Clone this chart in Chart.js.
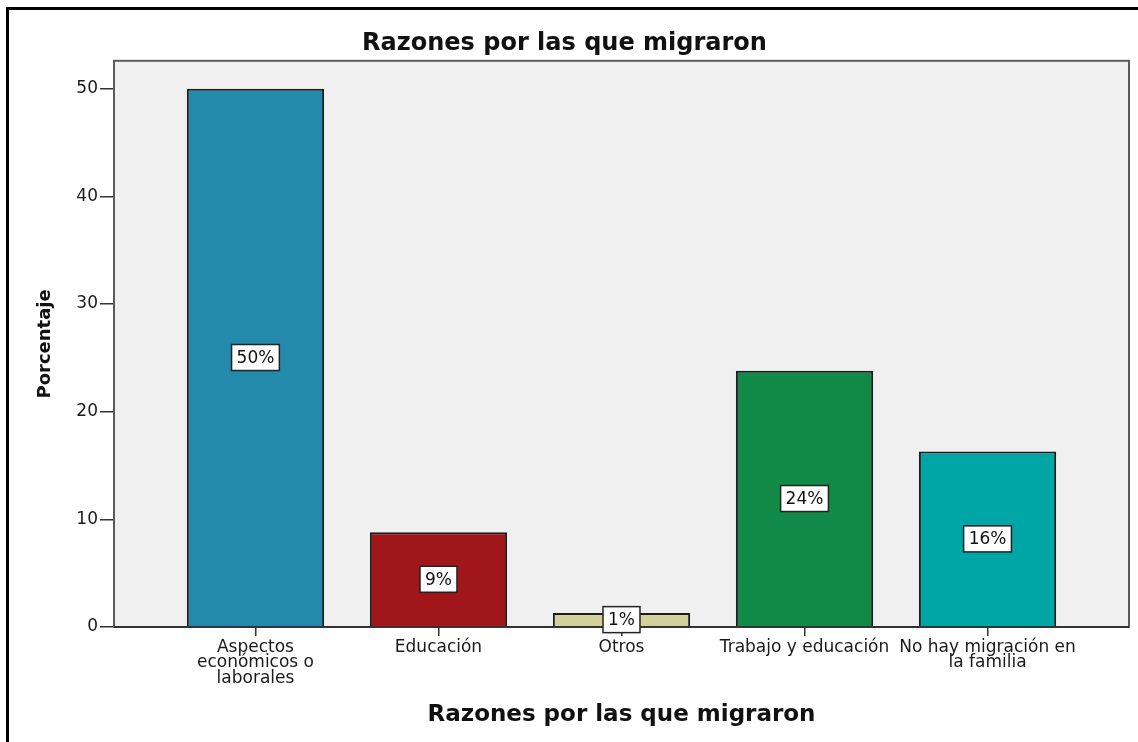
<!DOCTYPE html>
<html>
<head>
<meta charset="utf-8">
<script src="https://cdn.jsdelivr.net/npm/chart.js@4.4.0/dist/chart.umd.min.js"></script>
<style>
  body { margin: 0; background: #fff; }
  canvas { display: block; }
</style>
</head>
<body>
<canvas id="migChart" width="1138" height="742"></canvas>
<script>
// Datos
const categories = [
  ["Aspectos", "económicos o", "laborales"],
  ["Educación"],
  ["Otros"],
  ["Trabajo y educación"],
  ["No hay migración en", "la familia"]
];
const percentages = [50.0, 8.8, 1.3, 23.8, 16.3];
const barColors = ["#248aab", "#a0161a", "#d5d09b", "#108a46", "#00a5a5"];
const yTickValues = [0, 10, 20, 30, 40, 50];

Chart.defaults.font.family = "'DejaVu Sans', sans-serif";

// fondo gris del area de trazado y marco exterior
const framePlugin = {
  id: "frame",
  beforeDraw(chart) {
    const { ctx, chartArea: a } = chart;
    ctx.save();
    ctx.fillStyle = "#fff";
    ctx.fillRect(0, 0, chart.width, chart.height);
    ctx.strokeStyle = "#000";
    ctx.lineWidth = 3;
    ctx.beginPath();
    ctx.moveTo(7.5, chart.height + 5);
    ctx.lineTo(7.5, 8.5);
    ctx.lineTo(chart.width + 5, 8.5);
    ctx.stroke();
    ctx.fillStyle = "#f0f0f0";
    ctx.fillRect(a.left, a.top, a.right - a.left, a.bottom - a.top);
    ctx.restore();
  },
  afterDatasetsDraw(chart) {
    const { ctx, chartArea: a } = chart;
    ctx.save();
    ctx.strokeStyle = "#5a5a5a";
    ctx.lineWidth = 2;
    ctx.strokeRect(a.left, a.top, a.right - a.left, a.bottom - a.top);
    ctx.strokeStyle = "#333";
    ctx.beginPath();
    ctx.moveTo(a.left, a.bottom);
    ctx.lineTo(a.right, a.bottom);
    ctx.stroke();
    ctx.restore();
  }
};

// etiquetas de porcentaje en cajas blancas
const pctLabels = {
  id: "pctLabels",
  afterDatasetsDraw(chart) {
    const ctx = chart.ctx;
    const meta = chart.getDatasetMeta(0);
    ctx.save();
    ctx.font = "17px 'DejaVu Sans'";
    ctx.textAlign = "center";
    ctx.textBaseline = "middle";
    meta.data.forEach((bar, i) => {
      const txt = Math.round(percentages[i]) + "%";
      const cy = (bar.y + bar.base) / 2;
      const w = ctx.measureText(txt).width + 10;
      const h = 26;
      ctx.fillStyle = "#fff";
      ctx.fillRect(bar.x - w / 2, cy - h / 2, w, h);
      ctx.strokeStyle = "#222";
      ctx.lineWidth = 1.5;
      ctx.strokeRect(bar.x - w / 2, cy - h / 2, w, h);
      ctx.fillStyle = "#111";
      ctx.fillText(txt, bar.x, cy + 1);
    });
    ctx.restore();
  }
};

const ctx = document.getElementById("migChart").getContext("2d");
const chart = new Chart(ctx, {
  type: "bar",
  data: {
    datasets: [{
      data: percentages.map((v, i) => ({ x: i, y: v })),
      backgroundColor: barColors,
      borderColor: "#1c1c1c",
      borderWidth: 2,
      barPercentage: 0.75,
      categoryPercentage: 1
    }]
  },
  options: {
    responsive: false,
    animation: false,
    layout: { padding: { left: 0, right: 9, top: 0, bottom: 0 } },
    plugins: {
      legend: { display: false },
      tooltip: { enabled: false },
      title: {
        display: true,
        text: "Razones por las que migraron",
        color: "#111",
        font: { size: 24, weight: "bold", lineHeight: 1.2 },
        padding: { top: 29, bottom: 3 }
      }
    },
    scales: {
      x: {
        type: "linear",
        offset: false,
        min: -0.773,
        max: 4.773,
        afterBuildTicks: (s) => { s.ticks = categories.map((c, i) => ({ value: i })); },
        afterFit: (s) => { s.height = 115; },
        ticks: {
          autoSkip: false,
          maxRotation: 0,
          minRotation: 0,
          padding: 4,
          color: "#1a1a1a",
          font: { size: 17, lineHeight: 0.9 },
          callback: (v) => categories[v]
        },
        grid: { offset: false, drawOnChartArea: false, tickLength: 9, color: "#333", lineWidth: 1.5 },
        border: { display: false },
        title: {
          display: true,
          text: "Razones por las que migraron",
          color: "#111",
          font: { size: 23, weight: "bold", lineHeight: 1.2 },
          padding: { top: 0, bottom: 13 }
        }
      },
      y: {
        min: 0,
        max: 52.6,
        afterBuildTicks: (s) => { s.ticks = yTickValues.map((v) => ({ value: v })); },
        afterFit: (s) => { s.width = 114; },
        ticks: { color: "#1a1a1a", font: { size: 17 }, padding: 2 },
        grid: { drawOnChartArea: false, tickLength: 14, color: "#333", lineWidth: 1.5 },
        border: { display: false },
        title: {
          display: true,
          text: "Porcentaje",
          color: "#111",
          font: { size: 18, weight: "bold", lineHeight: 1.2 },
          padding: { top: 35, bottom: 0 }
        }
      }
    }
  },
  plugins: [framePlugin, pctLabels]
});
</script>
</body>
</html>
